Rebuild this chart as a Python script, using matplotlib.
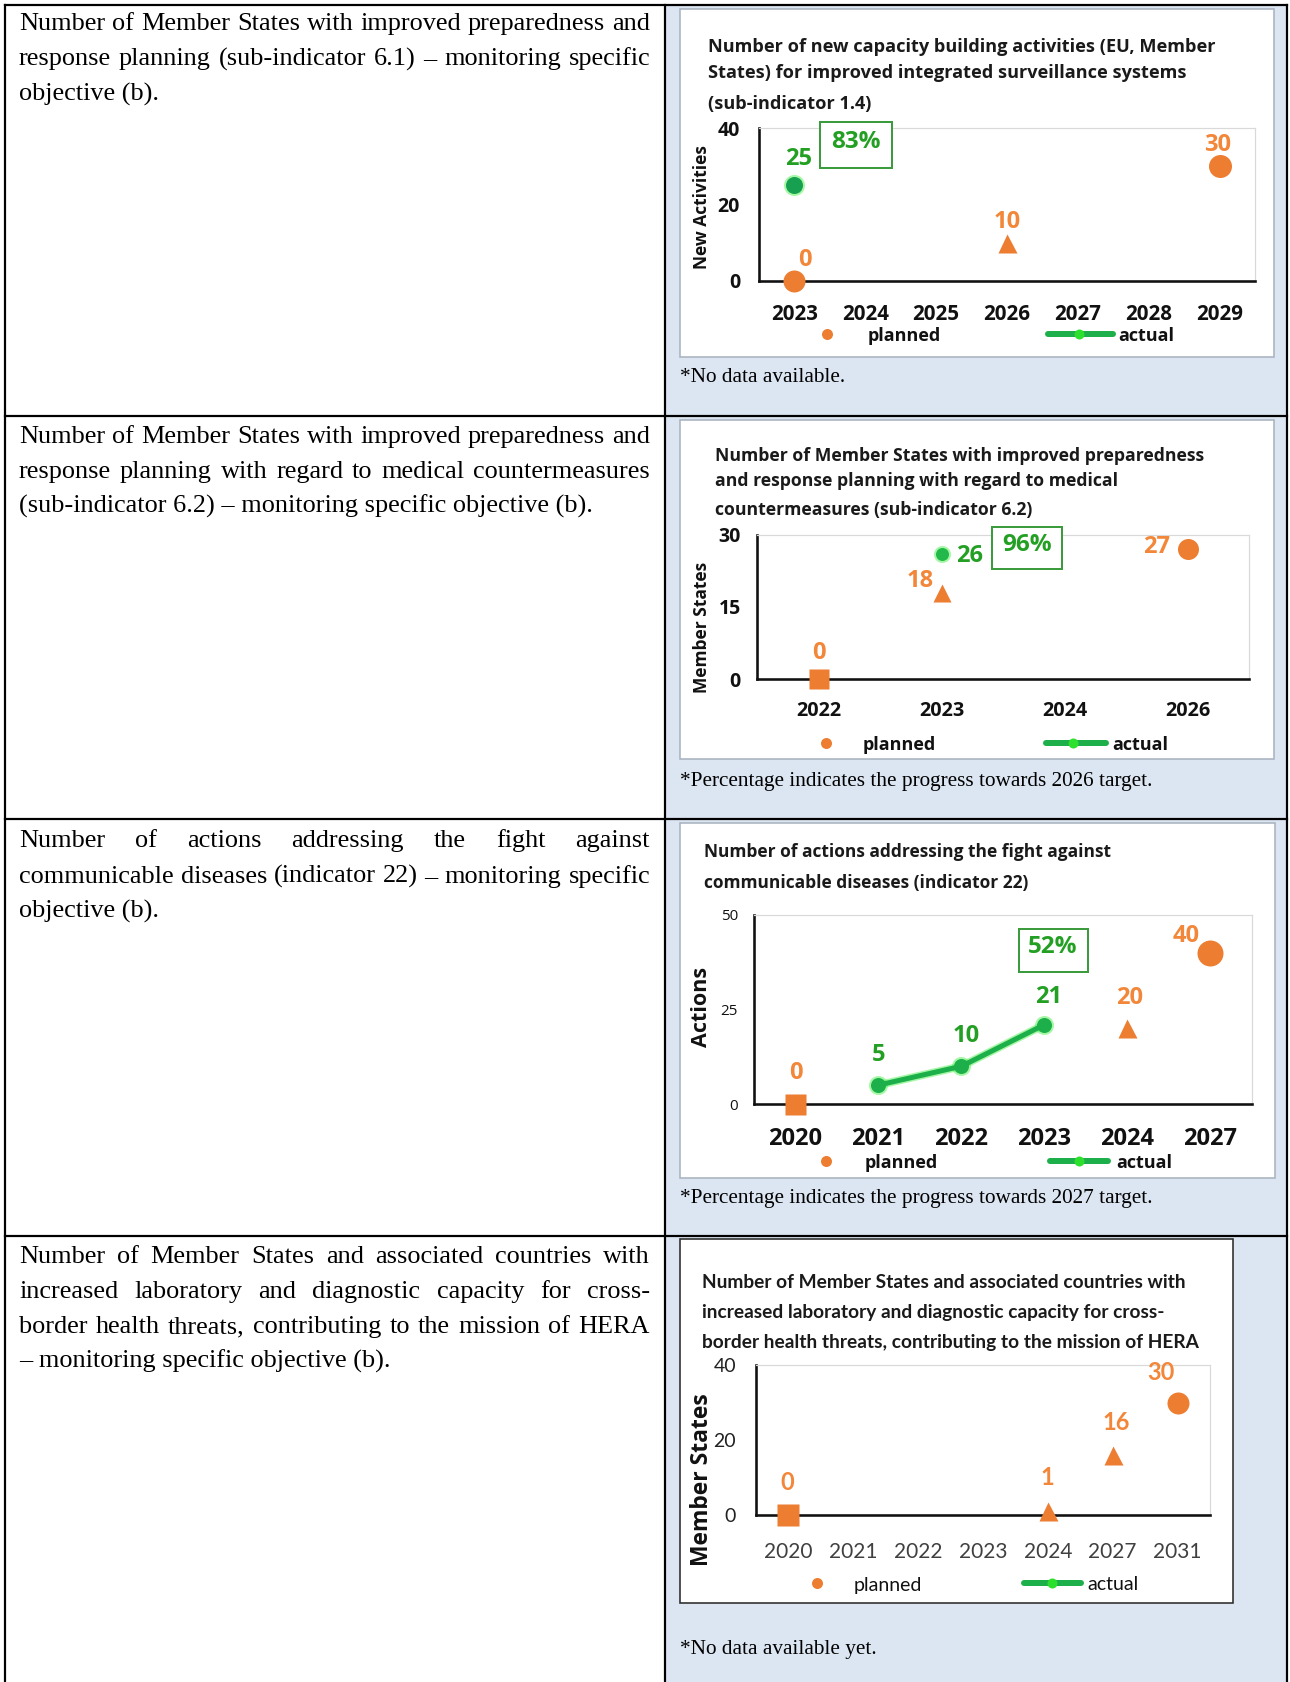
import matplotlib
matplotlib.use('Agg')
import matplotlib.pyplot as plt
from matplotlib.lines import Line2D
from matplotlib.patches import Rectangle

W, H, DPI = 1290, 1682, 100

# ---------------- data ----------------
# Sub-indicator 1.4: new capacity building activities
c1_years = ['2023', '2024', '2025', '2026', '2027', '2028', '2029']
c1_planned_years = ['2023', '2026', '2029']
c1_planned = [0, 10, 30]
c1_actual_years = ['2023']
c1_actual = [25]
c1_yticks = [0, 20, 40]

# Sub-indicator 6.2: Member States, medical countermeasures
c2_years = ['2022', '2023', '2024', '2026']
c2_planned_years = ['2022', '2023', '2026']
c2_planned = [0, 18, 27]
c2_actual_years = ['2023']
c2_actual = [26]
c2_yticks = [0, 15, 30]

# Indicator 22: actions against communicable diseases
c3_years = ['2020', '2021', '2022', '2023', '2024', '2027']
c3_planned_years = ['2020', '2024', '2027']
c3_planned = [0, 20, 40]
c3_actual_years = ['2021', '2022', '2023']
c3_actual = [5, 10, 21]
c3_yticks = [0, 25, 50]

# HERA: laboratory and diagnostic capacity
c4_years = ['2020', '2021', '2022', '2023', '2024', '2027', '2031']
c4_planned_years = ['2020', '2024', '2027', '2031']
c4_planned = [0, 1, 16, 30]
c4_actual_years = []
c4_actual = []
c4_yticks = [0, 20, 40]

row_texts = [
    ["Number of Member States with improved preparedness and",
     "response planning (sub-indicator 6.1) \u2013 monitoring specific",
     "objective (b)."],
    ["Number of Member States with improved preparedness and",
     "response planning with regard to medical countermeasures",
     "(sub-indicator 6.2) \u2013 monitoring specific objective (b)."],
    ["Number of actions addressing the fight against",
     "communicable diseases (indicator 22) \u2013 monitoring specific",
     "objective (b)."],
    ["Number of Member States and associated countries with",
     "increased laboratory and diagnostic capacity for cross-",
     "border health threats, contributing to the mission of HERA",
     "\u2013 monitoring specific objective (b)."],
]

chart_titles = [
    ["Number of new capacity building activities (EU, Member",
     "States) for improved integrated surveillance systems",
     "(sub-indicator 1.4)"],
    ["Number of Member States with improved preparedness",
     "and response planning with regard to medical",
     "countermeasures (sub-indicator 6.2)"],
    ["Number of actions addressing the fight against",
     "communicable diseases (indicator 22)"],
    ["Number of Member States and associated countries with",
     "increased laboratory and diagnostic capacity for cross-",
     "border health threats, contributing to the mission of HERA"],
]
y_labels = ['New Activities', 'Member States', 'Actions', 'Member States']
notes = ['*No data available.',
         '*Percentage indicates the progress towards 2026 target.',
         '*Percentage indicates the progress towards 2027 target.',
         '*No data available yet.']

# ---------------- styling ----------------
SANS = ['Open Sans', 'DejaVu Sans']
NARROW = ['Lato', 'DejaVu Sans']
SERIF = ['Liberation Serif', 'DejaVu Serif']
ORANGE = '#ED7D31'
ORANGE_TXT = '#F2873A'
GREEN = '#1DAF4A'
GREEN_TXT = '#23A023'
GLOW = '#5CF25C'
CELL_BLUE = '#DCE6F2'

fig = plt.figure(figsize=(W / DPI, H / DPI), dpi=DPI)
fig.patch.set_facecolor('white')
renderer = fig.canvas.get_renderer()


def fx(x):
    return x / W


def fy(y):
    return 1 - y / H


def pt(px):
    return px * 72 / DPI


def frect(x0, y0, x1, y1, **kw):
    r = Rectangle((fx(x0), fy(y1)), (x1 - x0) / W, (y1 - y0) / H,
                  transform=fig.transFigure, **kw)
    fig.add_artist(r)
    return r


def fline(xs, ys, **kw):
    ln = Line2D([fx(x) for x in xs], [fy(y) for y in ys],
                transform=fig.transFigure, **kw)
    fig.add_artist(ln)
    return ln


def ftext(x, y, s, **kw):
    return fig.text(fx(x), fy(y), s, **kw)


def text_width(s, **kw):
    t = fig.text(0, 0, s, **kw)
    w = t.get_window_extent(renderer).width
    t.remove()
    return w


def natural_width(line, **kw):
    words = line.split(' ')
    space = text_width('a a', **kw) - text_width('aa', **kw)
    return sum(text_width(w, **kw) for w in words) + space * (len(words) - 1)


def justified(lines, x0, x1, baselines, **kw):
    for i, (line, yb) in enumerate(zip(lines, baselines)):
        if i == len(lines) - 1:
            ftext(x0, yb, line, ha='left', va='baseline', **kw)
            continue
        words = line.split(' ')
        widths = [text_width(w, **kw) for w in words]
        gap = (x1 - x0 - sum(widths)) / (len(words) - 1)
        x = x0
        for word, wd in zip(words, widths):
            ftext(x, yb, word, ha='left', va='baseline', **kw)
            x += wd + gap


# ---------------- table frame ----------------
LEFT, MID, RIGHT, TOP = 5, 665, 1287, 5
ROW_LINES = [416, 819, 1236]
TXT_X0, TXT_X1 = 19, 650
frect(MID, TOP, RIGHT, H, facecolor=CELL_BLUE, edgecolor='none', zorder=-3)
for y in [TOP] + ROW_LINES:
    fline([LEFT, RIGHT], [y, y], color='black', lw=pt(2.2), zorder=8)
for x in [LEFT, MID, RIGHT]:
    fline([x, x], [TOP, H], color='black', lw=pt(2.2), zorder=8)

# body text size: the widest full line just fills the cell
base_size = 18
widest = max(natural_width(l, family=SERIF, fontsize=base_size)
             for lines in row_texts for l in lines[:-1])
body_size = min(19.5, base_size * (TXT_X1 - TXT_X0) / widest)

row_baselines = [[30, 65.5, 101], [443, 478, 513], [847, 883, 918],
                 [1263, 1298, 1333, 1368]]
for lines, bl in zip(row_texts, row_baselines):
    justified(lines, TXT_X0, TXT_X1, bl, family=SERIF, fontsize=body_size,
              color='black')


# ---------------- charts ----------------
def draw_chart(years, p_years, p_vals, a_years, a_vals, yticks,
               title, ylabel, note, st):
    bx0, by0, bx1, by1 = st['box']
    frect(bx0, by0, bx1, by1, facecolor='white', edgecolor=st['box_edge'],
          lw=pt(1.6), zorder=-1)

    ax0, ay0, ax1, ay1 = st['axes']
    ax = fig.add_axes([fx(ax0), fy(ay1), (ax1 - ax0) / W, (ay1 - ay0) / H])
    ax.set_facecolor('white')
    ax.set_xlim(-0.5, len(years) - 0.5)
    ax.set_ylim(yticks[0], yticks[-1])
    ax.set_xticks(range(len(years)), years)
    ax.set_yticks(yticks)
    for side in ('top', 'right'):
        ax.spines[side].set_color('#D9D9D9')
        ax.spines[side].set_linewidth(pt(1.2))
    for side in ('left', 'bottom'):
        ax.spines[side].set_color('#111111')
        ax.spines[side].set_linewidth(pt(2.6))
    ax.tick_params(axis='both', length=0)
    ax.tick_params(axis='x', pad=pt(st['xpad']))
    ax.tick_params(axis='y', pad=pt(st['ypad']))
    for lab in ax.get_xticklabels():
        lab.set_fontfamily(st['xfont'][0])
        lab.set_fontsize(st['xfont'][1])
        lab.set_fontweight(st['xfont'][2])
        lab.set_color(st['xfont'][3])
    for lab in ax.get_yticklabels():
        lab.set_fontfamily(st['yfont'][0])
        lab.set_fontsize(st['yfont'][1])
        lab.set_fontweight(st['yfont'][2])
        lab.set_color(st['yfont'][3])

    lab_fam, lab_size, lab_w = st['labfont']

    # planned values
    for yr, v, m, ms, off in zip(p_years, p_vals, st['p_markers'],
                                 st['p_sizes'], st['p_offsets']):
        xi = years.index(yr)
        ax.plot([xi], [v], marker=m, ms=pt(ms), color=ORANGE, mec='none',
                ls='none', clip_on=False, zorder=5)
        ax.annotate(str(v), (xi, v), xytext=(pt(off[0]), pt(off[1])),
                    textcoords='offset points', ha='center', va='center',
                    color=ORANGE_TXT, family=lab_fam, fontsize=lab_size,
                    fontweight=lab_w, annotation_clip=False, zorder=7)

    # actual values
    if a_years:
        xs = [years.index(y) for y in a_years]
        ax.plot(xs, a_vals, color=GLOW, alpha=0.55, lw=pt(st['a_lw'] + 3),
                marker='o', ms=pt(st['a_ms'] + 4), mec='none',
                solid_capstyle='round', clip_on=False, zorder=5)
        ax.plot(xs, a_vals, color=GREEN, lw=pt(st['a_lw']), marker='o',
                ms=pt(st['a_ms']), mfc=st['a_mfc'], mec='none',
                solid_capstyle='round', clip_on=False, zorder=6)
        for xi, v, off in zip(xs, a_vals, st['a_offsets']):
            ax.annotate(str(v), (xi, v), xytext=(pt(off[0]), pt(off[1])),
                        textcoords='offset points', ha='center', va='center',
                        color=GREEN_TXT, family=lab_fam, fontsize=lab_size,
                        fontweight=lab_w, annotation_clip=False, zorder=7)
        # progress towards the final target
        pct = int(100 * a_vals[-1] / p_vals[-1])
        cx, cy, w, h = st['pct_box']
        frect(cx - w / 2, cy - h / 2, cx + w / 2, cy + h / 2, facecolor='white',
              edgecolor='#3C9B3C', lw=pt(2.0), zorder=3)
        ftext(cx, cy - 3, f'{pct}%', ha='center', va='center', color=GREEN_TXT,
              family=lab_fam, fontsize=lab_size + 0.5, fontweight='bold',
              zorder=4)

    # title
    tfam, tsize, tweight = st['tfont']
    for line, yb in zip(title, st['title_base']):
        ftext(st['title_x'], yb, line, ha='left', va='baseline', family=tfam,
              fontsize=tsize, fontweight=tweight, color='#1A1A1A')

    # y-axis title
    yx, yy, ysize = st['ylabel']
    ftext(yx, yy, ylabel, rotation=90, ha='center', va='center',
          family=SANS, fontsize=ysize, fontweight='bold', color='#111111')

    # legend
    lg = st['legend']
    lfam, lsize, lweight = st['legfont']
    fline([lg['dot']], [lg['y']], marker='o', ms=pt(11), color=ORANGE,
          mec='none', ls='none', zorder=4)
    ftext(lg['planned'], lg['y'] + 2, 'planned', ha='left', va='center',
          family=lfam, fontsize=lsize, fontweight=lweight, color='#111111')
    fline(lg['line'], [lg['y'], lg['y']], color=GREEN, lw=pt(6),
          solid_capstyle='round', zorder=4)
    fline([lg['ldot']], [lg['y']], marker='o', ms=pt(10), color='#2EE02E',
          mec='none', ls='none', zorder=5)
    ftext(lg['actual'], lg['y'] + 2, 'actual', ha='left', va='center',
          family=lfam, fontsize=lsize, fontweight=lweight, color='#111111')

    # note below the chart
    ftext(680, st['note_base'], note, ha='left', va='baseline', family=SERIF,
          fontsize=15.3, color='black')


style1 = dict(
    box=(680, 9, 1274, 357), box_edge='#A9B3BF', axes=(759, 128, 1255, 281),
    xpad=23, ypad=19, xfont=(SANS, 14.8, 'bold', '#111111'),
    yfont=(SANS, 14, 'bold', '#111111'), labfont=(SANS, 17, 'bold'),
    p_markers=['o', '^', 'o'], p_sizes=[22, 19, 23],
    p_offsets=[(10, 21), (0, 21), (-2, 21)],
    a_lw=5, a_ms=17, a_mfc='#16A050', a_offsets=[(4, 26)],
    pct_box=(856, 145, 72, 46),
    tfont=(SANS, 13.1, 'bold'), title_x=708, title_base=[52, 78, 109],
    ylabel=(702, 207, 12.5),
    legend=dict(y=334, dot=827, planned=868, line=[1048, 1113], ldot=1079,
                actual=1118),
    legfont=(SANS, 13, 'bold'), note_base=382)

style2 = dict(
    box=(680, 420, 1274, 759), box_edge='#A9B3BF', axes=(757, 535, 1249, 679),
    xpad=22, ypad=16, xfont=(SANS, 14.2, 'bold', '#111111'),
    yfont=(SANS, 14, 'bold', '#111111'), labfont=(SANS, 17, 'bold'),
    p_markers=['s', '^', 'o'], p_sizes=[20, 18, 21],
    p_offsets=[(0, 26), (-21, 12), (-31, 2)],
    a_lw=5, a_ms=13, a_mfc='#22B84A', a_offsets=[(28, -2)],
    pct_box=(1027, 548, 70, 41),
    tfont=(SANS, 12.7, 'bold'), title_x=715, title_base=[461, 486, 515],
    ylabel=(702, 627, 12.5),
    legend=dict(y=743, dot=826, planned=863, line=[1046, 1106], ldot=1073,
                actual=1112),
    legfont=(SANS, 13, 'bold'), note_base=786)

style3 = dict(
    box=(680, 823, 1275, 1178), box_edge='#A9B3BF', axes=(754, 915, 1252, 1104),
    xpad=23, ypad=16, xfont=(SANS, 17, 'bold', '#111111'),
    yfont=(SANS, 11, 'normal', '#111111'), labfont=(SANS, 17, 'bold'),
    p_markers=['s', '^', 'o'], p_sizes=[21, 19, 26],
    p_offsets=[(0, 31), (2, 30), (-24, 17)],
    a_lw=5, a_ms=15, a_mfc=GREEN, a_offsets=[(0, 30), (5, 30), (4, 28)],
    pct_box=(1053, 950, 69, 43),
    tfont=(SANS, 12.5, 'bold'), title_x=704, title_base=[857, 888],
    ylabel=(701, 1007, 15.5),
    legend=dict(y=1161, dot=826, planned=865, line=[1050, 1108], ldot=1079,
                actual=1116),
    legfont=(SANS, 13, 'bold'), note_base=1203)

style4 = dict(
    box=(680, 1239, 1233, 1603), box_edge='#2B2B2B', axes=(756, 1365, 1210, 1515),
    xpad=27, ypad=20, xfont=(NARROW, 15, 'normal', '#404040'),
    yfont=(NARROW, 14, 'normal', '#222222'), labfont=(NARROW, 17, 'bold'),
    p_markers=['s', '^', '^', 'o'], p_sizes=[22, 19, 19, 22],
    p_offsets=[(-1, 32), (0, 34), (3, 32), (-17, 30)],
    a_lw=5, a_ms=13, a_mfc=GREEN, a_offsets=[],
    pct_box=(0, 0, 0, 0),
    tfont=(NARROW, 13.8, 'bold'), title_x=702, title_base=[1288, 1318, 1348],
    ylabel=(702, 1480, 16.5),
    legend=dict(y=1583, dot=817, planned=854, line=[1024, 1081], ldot=1052,
                actual=1087),
    legfont=(NARROW, 14, 'normal'), note_base=1654)

draw_chart(c1_years, c1_planned_years, c1_planned, c1_actual_years, c1_actual,
           c1_yticks, chart_titles[0], y_labels[0], notes[0], style1)
draw_chart(c2_years, c2_planned_years, c2_planned, c2_actual_years, c2_actual,
           c2_yticks, chart_titles[1], y_labels[1], notes[1], style2)
draw_chart(c3_years, c3_planned_years, c3_planned, c3_actual_years, c3_actual,
           c3_yticks, chart_titles[2], y_labels[2], notes[2], style3)
draw_chart(c4_years, c4_planned_years, c4_planned, c4_actual_years, c4_actual,
           c4_yticks, chart_titles[3], y_labels[3], notes[3], style4)

fig.savefig('out.png', dpi=DPI)
